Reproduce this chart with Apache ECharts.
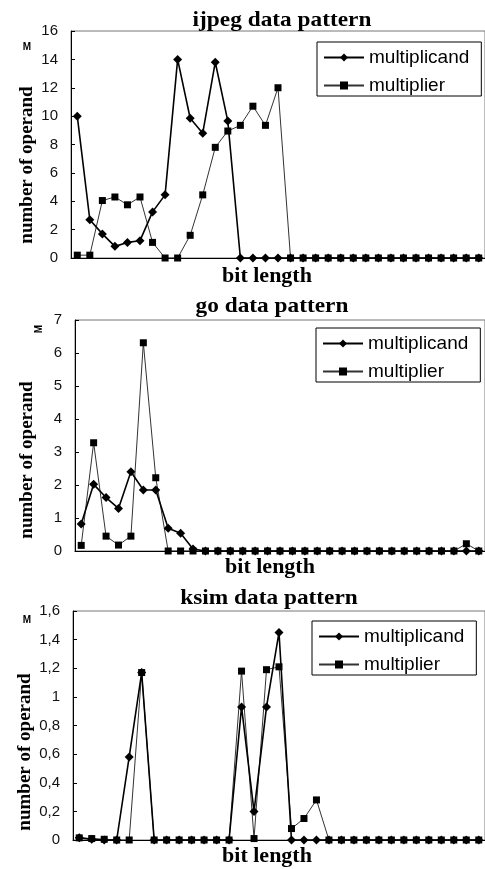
<!DOCTYPE html>
<html>
<head>
<meta charset="utf-8">
<script src="https://cdn.jsdelivr.net/npm/echarts@6/dist/echarts.min.js"></script>
<style>
  html, body { margin: 0; padding: 0; background: #fff; }
  #dataPattern { width: 485px; height: 869px; }
</style>
</head>
<body>
<div id="dataPattern"></div>
<script>
  // bit length categories (axis labels are hidden in the original)
  const bitLengths = ['0', '1', '2', '3', '4', '5', '6', '7', '8', '9', '10',
    '11', '12', '13', '14', '15', '16', '17', '18', '19', '20', '21', '22',
    '23', '24', '25', '26', '27', '28', '29', '30', '31', '32'];

  // values in M (millions of operands)
  const ijpegMultiplicand = [10.0, 2.7, 1.7, 0.82, 1.1, 1.22, 3.25, 4.45, 14.0, 9.85, 8.8,
    13.8, 9.65, 0, 0, 0, 0, 0, 0, 0, 0, 0, 0, 0, 0, 0, 0, 0, 0, 0, 0, 0, 0];
  const ijpegMultiplier = [0.2, 0.2, 4.05, 4.3, 3.75, 4.3, 1.1, 0, 0, 1.6, 4.45,
    7.8, 8.95, 9.35, 10.7, 9.35, 12.0, 0, 0, 0, 0, 0, 0, 0, 0, 0, 0, 0, 0, 0, 0, 0, 0];

  const goMultiplicand = [0.82, 2.02, 1.62, 1.29, 2.4, 1.85, 1.85, 0.69, 0.54, 0.06, 0,
    0, 0, 0, 0, 0, 0, 0, 0, 0, 0, 0, 0, 0, 0, 0, 0, 0, 0, 0, 0, 0, 0];
  const goMultiplier = [0.17, 3.28, 0.45, 0.18, 0.45, 6.31, 2.22, 0, 0, 0, 0,
    0, 0, 0, 0, 0, 0, 0, 0, 0, 0, 0, 0, 0, 0, 0, 0, 0, 0, 0, 0, 0.22, 0];

  const ksimMultiplicand = [0.015, 0.005, 0, 0, 0.58, 1.17, 0, 0, 0, 0, 0,
    0, 0, 0.93, 0.2, 0.93, 1.45, 0, 0, 0, 0, 0, 0, 0, 0, 0, 0, 0, 0, 0, 0, 0, 0];
  const ksimMultiplier = [0.015, 0.01, 0.005, 0, 0, 1.17, 0, 0, 0, 0, 0,
    0, 0, 1.18, 0.01, 1.19, 1.21, 0.08, 0.15, 0.28, 0, 0, 0, 0, 0, 0, 0, 0, 0, 0, 0, 0, 0];

  const chartTitles = ['ijpeg data pattern', 'go data pattern', 'ksim data pattern'];
  const seriesNames = ['multiplicand', 'multiplier'];
  const yMax = [16, 7, 1.6];
  const yInterval = [2, 1, 0.2];

  const panels = [
    { title: chartTitles[0], data: [ijpegMultiplicand, ijpegMultiplier] },
    { title: chartTitles[1], data: [goMultiplicand, goMultiplier] },
    { title: chartTitles[2], data: [ksimMultiplicand, ksimMultiplier] }
  ];

  // layout of the three stacked plots
  const grids = [
    { left: 71, top: 31, width: 418, height: 227 },
    { left: 75, top: 320, width: 413, height: 231 },
    { left: 73, top: 611, width: 414, height: 229 }
  ];
  const legendPos = [
    { left: 317, top: 42 },
    { left: 316, top: 328 },
    { left: 312, top: 621 }
  ];
  const titlePos = [[282, 20], [272, 306], [269, 598]];
  const xNamePos = [[267, 276], [270, 567], [267, 856]];
  const yNamePos = [[27, 165], [27, 460], [25, 752]];
  const unitPos = [[27, 47, 0], [39, 329, Math.PI / 2], [27, 620, 0]];

  const serif = '"Liberation Serif", "Times New Roman", serif';
  const sans = '"Liberation Sans", Arial, sans-serif';

  let myChart = echarts.init(document.getElementById('dataPattern'));

  let series = [];
  panels.forEach((p, i) => {
    series.push({
      name: seriesNames[0],
      type: 'line',
      xAxisIndex: i,
      yAxisIndex: i,
      data: p.data[0],
      symbol: 'diamond',
      symbolSize: 9,
      showSymbol: true,
      showAllSymbol: true,
      itemStyle: { color: '#000' },
      lineStyle: { color: '#000', width: 1.6 },
      animation: false,
      z: 3
    });
    series.push({
      name: seriesNames[1],
      type: 'line',
      xAxisIndex: i,
      yAxisIndex: i,
      data: p.data[1],
      symbol: 'rect',
      symbolSize: 7,
      showSymbol: true,
      showAllSymbol: true,
      itemStyle: { color: '#000' },
      lineStyle: { color: '#333', width: 1 },
      animation: false,
      z: 2
    });
  });

  let graphic = [];
  panels.forEach((p, i) => {
    graphic.push({
      type: 'text', x: titlePos[i][0], y: titlePos[i][1], scaleX: 1.06,
      style: { text: p.title, align: 'center', verticalAlign: 'middle',
        font: 'bold 22px ' + serif, fill: '#000' }
    });
    graphic.push({
      type: 'text', x: xNamePos[i][0], y: xNamePos[i][1],
      style: { text: 'bit length', align: 'center', verticalAlign: 'middle',
        font: 'bold 22px ' + serif, fill: '#000' }
    });
    graphic.push({
      type: 'text', x: yNamePos[i][0], y: yNamePos[i][1], rotation: Math.PI / 2,
      style: { text: 'number of operand', align: 'center', verticalAlign: 'middle',
        font: 'bold 19px ' + serif, fill: '#000' }
    });
    graphic.push({
      type: 'text', x: unitPos[i][0], y: unitPos[i][1], rotation: unitPos[i][2],
      style: { text: 'M', align: 'center', verticalAlign: 'middle',
        font: 'bold 10px ' + sans, fill: '#000' }
    });
  });

  const option = {
    backgroundColor: '#fff',
    animation: false,
    grid: grids.map(g => Object.assign({
      show: true, borderColor: '#777', borderWidth: 1, backgroundColor: 'transparent'
    }, g)),
    xAxis: grids.map((g, i) => ({
      type: 'category',
      gridIndex: i,
      data: bitLengths,
      boundaryGap: true,
      axisLine: { show: true, lineStyle: { color: '#000', width: 1 } },
      axisTick: { show: false },
      axisLabel: { show: false },
      splitLine: { show: false }
    })),
    yAxis: grids.map((g, i) => ({
      type: 'value',
      gridIndex: i,
      min: 0,
      max: yMax[i],
      interval: yInterval[i],
      axisLine: { show: true, lineStyle: { color: '#000', width: 1 } },
      axisTick: { show: true, inside: true, length: 4, lineStyle: { color: '#000' } },
      splitLine: { show: false },
      axisLabel: {
        margin: 13,
        color: '#111',
        fontFamily: sans,
        fontSize: 15,
        formatter(v) {
          return String(+v.toFixed(1)).replace('.', ',');
        }
      }
    })),
    legend: legendPos.map(pos => ({
      orient: 'vertical',
      left: pos.left,
      top: pos.top,
      data: seriesNames,
      selectedMode: false,
      itemWidth: 40,
      itemHeight: 10,
      itemGap: 9,
      padding: [6, 12, 1, 6],
      borderColor: '#000',
      borderWidth: 1,
      borderRadius: 0,
      backgroundColor: '#fff',
      textStyle: { fontFamily: sans, fontSize: 19, color: '#000' }
    })),
    graphic: graphic,
    series: series
  };

  myChart.setOption(option);
</script>
</body>
</html>
